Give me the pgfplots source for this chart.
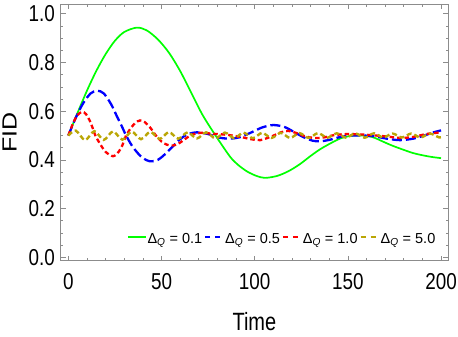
\documentclass[border=0pt]{standalone}
\usepackage{fontspec}
\setmainfont{Liberation Sans}
\newfontfamily\tickfam[FakeStretch=0.82]{Liberation Sans}
\newfontfamily\labfam[FakeStretch=0.8]{Liberation Sans}
\usepackage{graphicx}
\usepackage{pgfplots}
\pgfplotsset{compat=1.18}
\definecolor{mgreen}{rgb}{0,1,0}
\definecolor{mblue}{rgb}{0,0,1}
\definecolor{mred}{rgb}{1,0,0}
\definecolor{molive}{rgb}{0.73,0.65,0.02}
\definecolor{frame}{gray}{0.55}
\begin{document}
\begin{tikzpicture}
\begin{axis}[
  scale only axis,
  width=387.8bp, height=256.7bp,
  xmin=-4.2, xmax=203.9, ymin=-0.014, ymax=1.04,
  xtick={0,50,100,150,200},
  ytick={0,0.2,0.4,0.6,0.8,1.0},
  minor x tick num=4,
  minor y tick num=3,
  tick align=inside,
  major tick length=5bp,
  minor tick length=2.7bp,
  tick style={frame, line width=0.6bp},
  axis line style={frame, line width=0.8bp},
  /pgf/number format/assume math mode=true,
  yticklabel style={/pgf/number format/fixed, /pgf/number format/fixed zerofill, /pgf/number format/precision=1},
  ticklabel style={font=\tickfam\fontsize{23bp}{26bp}\selectfont, inner sep=0pt},
  yticklabel style={xshift=-5.5bp},
  xticklabel style={yshift=-12.5bp},
  xlabel={Time},
  ylabel={\scalebox{1}[0.82]{FID}},
  xlabel style={at={(rel axis cs:0.5,-0.1987)}, anchor=north, inner sep=0pt, font=\labfam\fontsize{25bp}{28bp}\selectfont},
  ylabel style={at={(rel axis cs:-0.1129,0.5)}, anchor=south, inner sep=0pt, font=\fontsize{25bp}{28bp}\selectfont},
  legend columns=-1,
  legend style={draw=none, fill=none, at={(0.171,0.085)}, anchor=west, inner sep=0pt,
    font=\fontsize{14.5bp}{17bp}\selectfont, nodes={inner sep=0.3bp},
    column sep=0.5bp,
    /tikz/every even column/.append style={column sep=1.5bp}},
  legend image code/.code={\draw[#1] (0bp,2bp) -- (18bp,2bp);},
]
\addplot[mgreen, line width=1.7bp, smooth] coordinates {
(0,0.500)(5,0.594)(10,0.684)(15,0.765)(20,0.834)(25,0.889)(30,0.925)(36.7,0.943)
(42,0.932)(48,0.895)(54,0.840)(60,0.765)(66,0.675)(72,0.585)(79,0.500)(86.7,0.414)
(91,0.380)(96,0.352)(101,0.334)(105.5,0.326)(112,0.334)(118,0.353)(124,0.381)
(130,0.416)(135,0.443)(140,0.465)(146,0.488)(152,0.499)(158,0.500)(163,0.494)
(166,0.485)(170,0.471)(174,0.458)(180,0.441)(185,0.428)(190,0.419)(195,0.412)(200,0.407)
};
\addlegendentry{Δ\textsubscript{\itshape Q} = 0.1}
\addplot[mblue, line width=2.3bp, smooth, dash pattern=on 10bp off 4bp,
  legend image post style={dash pattern=on 5bp off 5bp}] coordinates {
(0,0.500)(4,0.573)(8,0.633)(12,0.673)(15.5,0.684)(19,0.673)(23,0.628)(26,0.580)
(28.7,0.538)(31,0.500)(34,0.460)(37,0.430)(40,0.407)(44,0.394)(48,0.400)(52,0.424)
(56,0.455)(60,0.485)(64,0.505)(69,0.513)(75,0.506)(80,0.493)(86,0.487)(92,0.493)
(98,0.512)(104,0.533)(110,0.543)(116,0.535)(121,0.515)(126,0.494)(131,0.479)
(135,0.476)(140,0.482)(146,0.494)(152,0.500)(158,0.500)(164,0.497)(171,0.487)
(178,0.481)(185,0.487)(191,0.500)(196,0.513)(200,0.521)
};
\addlegendentry{Δ\textsubscript{\itshape Q} = 0.5}
\addplot[mred, line width=2.3bp, smooth, dash pattern=on 4.5bp off 3bp,
  legend image post style={dash pattern=on 5bp off 5bp}] coordinates {
(0,0.500)(2,0.540)(4,0.573)(6,0.592)(7.5,0.598)(9.5,0.588)(11.5,0.561)(13,0.532)
(14.5,0.500)(17,0.466)(20,0.433)(24,0.415)(27,0.433)(29,0.460)(31,0.500)(33.5,0.530)
(36,0.552)(38.5,0.562)(41,0.555)(44,0.532)(47,0.500)(50,0.475)(53,0.462)(56,0.459)
(59,0.466)(62,0.482)(66,0.502)(71,0.511)(78,0.507)(85,0.503)(92,0.495)(98,0.485)
(103,0.481)(109,0.496)(114,0.513)(118,0.519)(122,0.511)(127,0.497)(132,0.490)
(137,0.492)(143,0.502)(150,0.506)(158,0.504)(165,0.500)(171,0.496)(178,0.490)
(185,0.494)(192,0.506)(200,0.513)
};
\addlegendentry{Δ\textsubscript{\itshape Q} = 1.0}
\addplot[molive, line width=2.4bp, smooth, dash pattern=on 5bp off 3bp,
  legend image post style={dash pattern=on 5bp off 5bp}] coordinates {
(0,0.500)(4,0.520)(9,0.481)(14,0.518)(19,0.482)(24,0.517)(29,0.483)(34,0.516)
(39,0.485)(44,0.515)(49,0.486)(54,0.514)(59,0.487)(64,0.513)(69,0.488)(74,0.513)
(79,0.488)(84,0.512)(89,0.489)(94,0.512)(99,0.489)(104,0.511)(109,0.490)(114,0.511)
(119,0.490)(124,0.510)(129,0.490)(134,0.510)(139,0.491)(144,0.509)(149,0.491)
(154,0.509)(159,0.491)(164,0.509)(169,0.492)(174,0.508)(179,0.492)(184,0.508)
(189,0.492)(194,0.508)(199,0.492)(200,0.493)
};
\addlegendentry{Δ\textsubscript{\itshape Q} = 5.0}
\end{axis}
\pgfresetboundingbox
\path ([xshift=-60.5bp,yshift=-76.3bp]current axis.south west) rectangle ([xshift=9.7bp,yshift=4bp]current axis.north east);
\end{tikzpicture}
\end{document}
